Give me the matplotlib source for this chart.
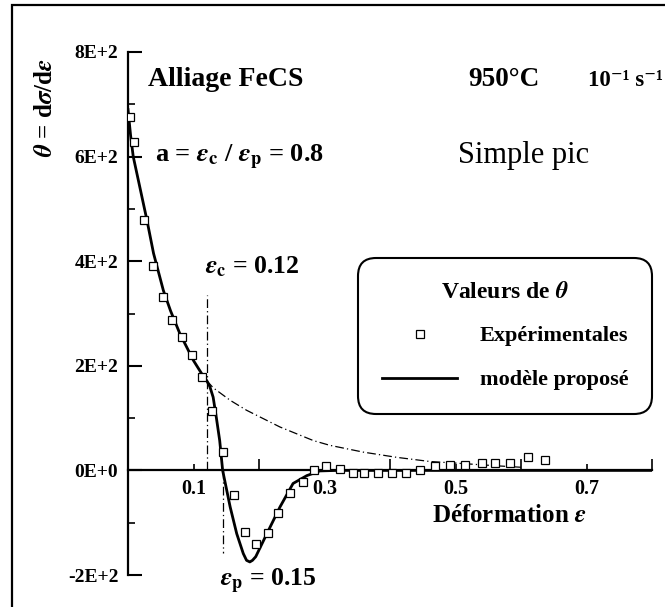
import matplotlib
matplotlib.use("Agg")
import matplotlib.pyplot as plt
from matplotlib.patches import Rectangle

plt.rcParams['font.family'] = ['Liberation Serif', 'DejaVu Serif']
plt.rcParams['font.weight'] = 'bold'
plt.rcParams['mathtext.fontset'] = 'stix'

exp_strain = [0.003, 0.0096, 0.0244, 0.0386, 0.053, 0.0676, 0.082, 0.098, 0.1125,
              0.128, 0.1446, 0.162, 0.179, 0.195, 0.213, 0.229, 0.248, 0.267,
              0.2845, 0.302, 0.324, 0.343, 0.361, 0.382, 0.403, 0.424, 0.446,
              0.468, 0.492, 0.5145, 0.540, 0.561, 0.583, 0.610, 0.636]
exp_theta = [676, 627, 479, 391, 331, 288, 256, 221, 178,
             113, 36, -47, -117, -140, -120, -82, -43, -22,
             0, 9, 2, -5, -5, -5, -5, -5, 0,
             8, 11, 11, 15, 15, 15, 25, 19]

# proposed model (solid line)
model_strain = [0.000, 0.004, 0.008, 0.018, 0.029, 0.039, 0.054, 0.065, 0.079, 0.100,
                0.113, 0.120, 0.125, 0.130, 0.135, 0.140, 0.1445, 0.156, 0.166, 0.176,
                0.181, 0.186, 0.190, 0.195, 0.212, 0.232, 0.252, 0.273, 0.293, 0.32,
                0.50, 0.80]
model_theta = [690, 640, 600, 542, 478, 415, 344, 305, 262, 210,
               184, 172, 160, 140, 100, 57, 0, -70, -121, -159,
               -172, -175, -172, -165, -121, -70, -25, -10, -1, 0,
               0, 0]

# hardening curve continued past eps_c (dash-dot)
extrap_strain = [0.120, 0.130, 0.156, 0.181, 0.232, 0.283, 0.308, 0.359, 0.410, 0.461,
                 0.512, 0.56, 0.60]
extrap_theta = [172, 158, 134, 115, 83, 57, 48, 35, 25, 17, 13, 9, 6]

eps_c = 0.12
eps_c_top = 335
eps_p = 0.145
eps_p_bottom = -157

y_ticks = [-200, 0, 200, 400, 600, 800]
y_labels = ['-2E+2', '0E+0', '2E+2', '4E+2', '6E+2', '8E+2']
x_major = [0.2, 0.4, 0.6, 0.8]
x_minor = [0.1, 0.3, 0.5, 0.7]
x_labels = ['0.1', '0.3', '0.5', '0.7']

fig = plt.figure(figsize=(6.65, 6.07), dpi=100)
ax = fig.add_axes([128 / 665, 1 - 575 / 607, (652 - 128) / 665, (575 - 52) / 607])

dash = (7, 2.5, 1, 2.5)
ax.plot(extrap_strain, extrap_theta, color='black', lw=0.9, dashes=dash)
ax.plot([eps_c, eps_c], [0, eps_c_top], color='black', lw=0.9, dashes=dash)
ax.plot([eps_p, eps_p], [0, eps_p_bottom], color='black', lw=0.9, dashes=dash)
line, = ax.plot(model_strain, model_theta, color='black', lw=2.0)
squares, = ax.plot(exp_strain, exp_theta, ls='none', marker='s', ms=5.2,
                   mfc='white', mec='black', mew=0.9, zorder=3)

ax.set_xlim(0, 0.8)
ax.set_ylim(-200, 800)
for s in ['top', 'right']:
    ax.spines[s].set_visible(False)
ax.spines['bottom'].set_position(('data', 0))
ax.spines['bottom'].set_linewidth(1.6)
ax.spines['left'].set_linewidth(1.6)

ax.set_yticks(y_ticks)
ax.set_yticklabels(y_labels)
ax.set_yticks([-100, 100, 300, 500, 700], minor=True)
ax.set_xticks(x_major)
ax.set_xticklabels([])
ax.set_xticks(x_minor, minor=True)
ax.set_xticklabels(x_labels, minor=True)
ax.tick_params(axis='y', which='major', direction='in', length=10, width=1.5, pad=7, labelsize=14)
ax.tick_params(axis='y', which='minor', direction='in', length=5, width=1.2)
ax.tick_params(axis='x', which='major', direction='in', length=8, width=1.2)
ax.tick_params(axis='x', which='minor', direction='in', length=4, width=1.2, pad=6, labelsize=14.5)

ax.text(0.0305, 747, 'Alliage FeCS', fontsize=20, va='center')
ax.text(0.519, 747, '950°C', fontsize=19.5, va='center')
fig.text(663 / 665, 1 - 86 / 607, '10⁻¹ s⁻¹', fontsize=16.5, ha='right', va='baseline')
ax.text(0.041, 588, r'a = $\varepsilon_{\mathbf{c}}$ / $\varepsilon_{\mathbf{p}}$ = 0.8',
        fontsize=19, va='baseline')
ax.text(0.504, 588, 'Simple pic', fontsize=22, fontweight='normal', va='baseline')
ax.text(0.1176, 377, r'$\varepsilon_{\mathbf{c}}$ = 0.12', fontsize=18.5, va='baseline')
ax.text(0.140, -222, r'$\varepsilon_{\mathbf{p}}$ = 0.15', fontsize=18.5, va='baseline', clip_on=False)
ax.text(0.464, -99, r'Déformation $\varepsilon$', fontsize=18, va='baseline')

fig.text(45 / 665, 1 - 108 / 607, r'$\theta$ = d$\sigma$/d$\varepsilon$', fontsize=18,
         rotation=90, ha='center', va='center')

leg = ax.legend([squares, line], ['Expérimentales', 'modèle proposé'],
                title=r'Valeurs de $\theta$', loc='center',
                bbox_to_anchor=(505 / 665, 1 - 336 / 607), bbox_transform=fig.transFigure,
                prop={'weight': 'bold', 'size': 16},
                title_fontproperties={'weight': 'bold', 'size': 17},
                handlelength=3.4, handletextpad=1.0, borderpad=0.8, labelspacing=1.05,
                fancybox=True, edgecolor='black', framealpha=1)
leg.get_frame().set_linewidth(1.5)
leg.get_frame().set_boxstyle('round,pad=0.25,rounding_size=0.8')

# outer frame of the scanned figure (only left and top edges visible)
fig.add_artist(Rectangle((12 / 665, -0.1), 1.1, 1.1 - 5 / 607, transform=fig.transFigure,
                         fill=False, lw=1.6, ec='black'))

fig.savefig('out.png', dpi=100)
